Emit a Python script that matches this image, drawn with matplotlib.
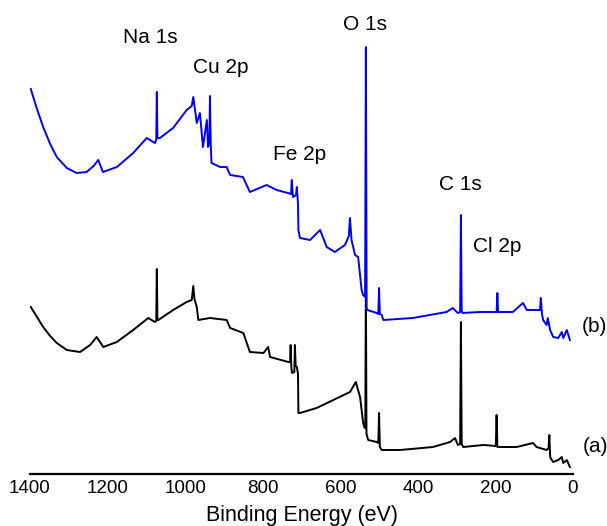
import matplotlib
matplotlib.use("Agg")
import matplotlib.pyplot as plt

# survey spectrum (b), binding energy (eV) vs intensity (a.u.)
energy_b = [1398, 1382, 1366, 1348, 1331, 1305, 1280, 1254, 1236, 1224, 1212,
            1176, 1134, 1099, 1078, 1074.5, 1073, 1071.5, 1065, 1031, 996,
            983, 979, 970, 962, 954, 944, 941, 937.5, 936, 934, 932, 910,
            893, 884, 851, 833, 790, 764, 735, 727, 725, 722, 714, 712, 709,
            708, 704, 678, 652, 635, 614, 588, 578, 575, 571, 562, 554, 545,
            541, 536, 534, 532, 530, 506, 502, 500, 498, 493, 489, 413, 326,
            310, 297, 291, 289, 287, 285, 240, 197, 195, 193, 155, 129, 119,
            94, 85, 83, 80, 77, 68, 65, 59, 51, 38, 29, 25, 16, 8]
counts_b = [385, 365, 347, 330, 317, 306, 301, 302, 308, 314, 302,
            307, 321, 336, 331, 334, 382, 336, 336, 346, 364,
            368, 377, 351, 361, 327, 354, 327, 330, 378, 330, 311, 307,
            307, 299, 297, 282, 289, 284, 281, 280, 294, 277, 279, 287, 270,
            244, 236, 234, 244, 227, 222, 229, 238, 256, 234, 219, 217, 184,
            179, 177, 427, 166, 164, 161, 160, 186, 160, 159, 154, 156, 162,
            166, 161, 162, 259, 163, 161, 162, 162, 181, 162, 162, 171, 164,
            164, 164, 176, 160, 154, 149, 156, 144, 137, 136, 142, 136, 144, 134]

# survey spectrum (a)
energy_a = [1398, 1382, 1366, 1348, 1331, 1305, 1271, 1245, 1228, 1211, 1176,
            1134, 1095, 1078, 1074.5, 1073, 1071.5, 1069, 1031, 996, 983, 979,
            976, 970, 966, 936, 893, 884, 850, 833, 798, 786, 781, 734, 729.5,
            728, 726, 724, 718.5, 717, 715, 712, 709, 708, 704, 661, 618, 575,
            560, 549, 541, 537, 535.5, 534, 532.5, 528, 506, 502, 500, 498,
            493, 446, 361, 317, 304, 297, 291, 289, 287, 283, 231, 199, 197,
            195, 193, 145, 103, 94, 68, 63, 61, 59, 58, 51, 38, 29, 25, 16, 8]
counts_a = [167, 157, 147, 138, 131, 124, 122, 129, 137, 127, 132,
            144, 156, 152, 153, 205, 154, 154, 164, 172, 174, 188,
            175, 167, 154, 156, 154, 146, 141, 122, 121, 127, 117, 112, 112,
            129, 105, 101, 102, 129, 108, 107, 100, 61, 61, 66, 74, 82,
            92, 77, 51, 46, 50, 194, 40, 34, 32, 31, 61, 27,
            24, 24, 27, 32, 36, 29, 30, 152, 30, 27, 29, 28, 59,
            27, 27, 27, 31, 27, 24, 26, 39, 18, 16, 12, 14, 17, 11, 14, 7]

peak_names = ["Na 1s", "Cu 2p", "Fe 2p", "O 1s", "C 1s", "Cl 2p"]
peak_x = [1091, 908, 706, 535, 290, 196]
peak_y = [437, 407, 320, 450, 290, 228]

plt.rcParams["font.family"] = ["Liberation Sans", "DejaVu Sans"]

fig = plt.figure(figsize=(6.07, 5.26), dpi=100)
ax = fig.add_axes([30 / 607, 52 / 526, 543 / 607, 474 / 526])

ax.plot(energy_a, counts_a, color="black", lw=1.4)
ax.plot(energy_b, counts_b, color="#0000ee", lw=1.4)

for name, x, y in zip(peak_names, peak_x, peak_y):
    ax.text(x, y, name, fontsize=15, ha="center", va="center")
ax.text(-23, 148, "(b)", fontsize=15, ha="left", va="center")
ax.text(-26, 28, "(a)", fontsize=15, ha="left", va="center")

ax.set_xlim(1400, 0)
ax.set_ylim(0, 474)
ax.set_xticks([1400, 1200, 1000, 800, 600, 400, 200, 0])
ax.set_yticks([])
ax.tick_params(axis="x", length=0, pad=4, labelsize=13.5)
for side in ["left", "right", "top"]:
    ax.spines[side].set_visible(False)
ax.spines["bottom"].set_linewidth(1.6)
ax.set_xlabel("Binding Energy (eV)", fontsize=15.5, labelpad=6)

fig.savefig("out.png", dpi=100)
